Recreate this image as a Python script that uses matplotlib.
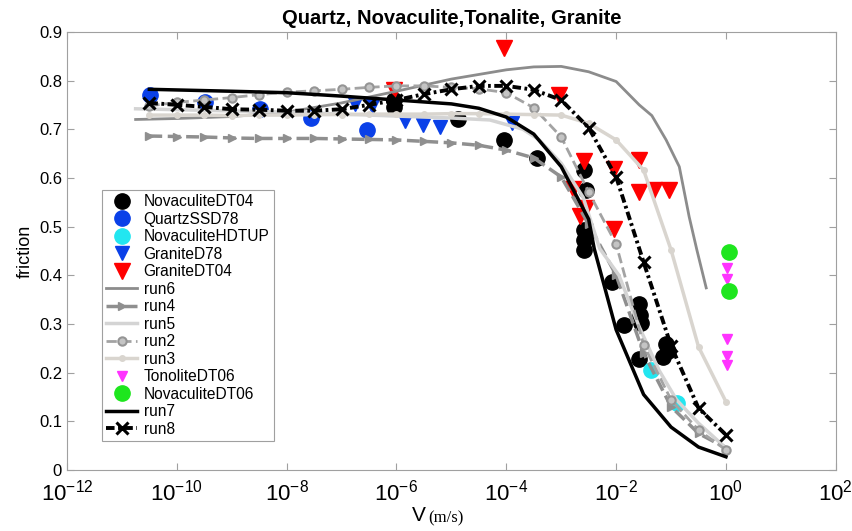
import numpy as np
import matplotlib
matplotlib.use("Agg")
import matplotlib.pyplot as plt

# log10 of slip velocity (m/s) for the model runs sampled every half decade
logv_grid = [-10.5, -10.0, -9.5, -9.0, -8.5, -8.0, -7.5, -7.0, -6.5, -6.0, -5.5,
             -5.0, -4.5, -4.0, -3.5, -3.0, -2.5, -2.0, -1.5, -1.0, -0.5, 0.0]

run2 = [0.748, 0.755, 0.760, 0.765, 0.771, 0.776, 0.779, 0.782, 0.786, 0.789, 0.789,
        0.786, 0.783, 0.775, 0.744, 0.684, 0.571, 0.464, 0.257, 0.144, 0.082, 0.041]
run3 = [0.729, 0.729, 0.729, 0.728, 0.729, 0.729, 0.730, 0.730, 0.731, 0.731, 0.731,
        0.732, 0.732, 0.731, 0.730, 0.729, 0.712, 0.678, 0.616, 0.452, 0.253, 0.140]
run4 = [0.686, 0.685, 0.684, 0.682, 0.681, 0.681, 0.681, 0.680, 0.679, 0.678, 0.675,
        0.672, 0.667, 0.657, 0.641, 0.602, 0.505, 0.400, 0.240, 0.130, 0.075, 0.045]
run8 = [0.754, 0.750, 0.746, 0.741, 0.740, 0.738, 0.738, 0.741, 0.750, 0.760, 0.772,
        0.782, 0.789, 0.789, 0.781, 0.760, 0.703, 0.602, 0.427, 0.255, 0.127, 0.072]

run7_logv = [-10.5, -9.0, -8.0, -7.0, -6.0, -5.0, -4.5, -4.0, -3.5, -3.0, -2.5, -2.4,
             -2.0, -1.5, -1.0, -0.5, 0.0]
run7 = [0.782, 0.778, 0.775, 0.768, 0.760, 0.752, 0.743, 0.725, 0.690, 0.623, 0.515,
        0.455, 0.288, 0.155, 0.088, 0.047, 0.027]

run6_logv = [-10.75, -10.0, -9.0, -8.0, -7.0, -6.0, -5.0, -4.0, -3.5, -3.0, -2.5, -2.0,
             -1.58, -1.35, -1.09, -0.85, -0.67, -0.53, -0.36]
run6 = [0.720, 0.722, 0.726, 0.735, 0.754, 0.778, 0.803, 0.822, 0.828, 0.829, 0.818,
        0.798, 0.750, 0.728, 0.678, 0.623, 0.520, 0.452, 0.374]

run5_logv = [-10.75, -8.0, -6.0, -5.0, -4.3, -3.7, -3.4, -3.0, -2.6, -2.3, -1.95,
             -1.58, -1.22, -0.9, -0.5, 0.0]
run5 = [0.742, 0.735, 0.727, 0.723, 0.719, 0.700, 0.678, 0.630, 0.560, 0.455, 0.400,
        0.294, 0.205, 0.144, 0.096, 0.045]

# laboratory data (log10 V, friction)
nov_dt04_logv = [-6.04, -6.04, -4.88, -4.04, -3.45, -2.58, -2.55, -2.58, -2.58, -2.58,
                 -2.07, -1.86, -1.58, -1.56, -1.55, -1.58, -1.09, -1.05, -1.15]
nov_dt04_mu = [0.745, 0.760, 0.720, 0.678, 0.640, 0.617, 0.575, 0.493, 0.473, 0.452,
               0.386, 0.297, 0.340, 0.318, 0.302, 0.228, 0.258, 0.245, 0.232]

qtz_ssd78_logv = [-10.49, -9.49, -8.49, -7.55, -6.53]
qtz_ssd78_mu = [0.770, 0.756, 0.742, 0.723, 0.699]

nov_hdtup_logv = [-1.36, -0.89]
nov_hdtup_mu = [0.205, 0.137]

gr_d78_logv = [-6.75, -6.45, -5.85, -5.52, -5.20, -3.90]
gr_d78_mu = [0.752, 0.748, 0.717, 0.709, 0.704, 0.713]

gr_dt04_logv = [-6.04, -4.04, -3.04, -2.58, -2.04, -1.58, -1.58, -1.31, -1.04,
                -2.78, -2.55, -2.65, -2.04]
gr_dt04_mu = [0.780, 0.867, 0.770, 0.635, 0.618, 0.637, 0.570, 0.576, 0.576,
              0.578, 0.538, 0.522, 0.495]

ton_dt06_logv = [0.02, 0.02, 0.02, 0.02, 0.02]
ton_dt06_mu = [0.415, 0.392, 0.268, 0.234, 0.216]

nov_dt06_logv = [0.06, 0.06]
nov_dt06_mu = [0.448, 0.368]


def v(logv):
    return 10.0 ** np.asarray(logv)


plt.rcParams['font.family'] = ['Liberation Sans', 'DejaVu Sans']

fig = plt.figure(figsize=(8.52, 5.31), dpi=100)
ax = fig.add_axes([0.0786, 0.115, 0.9024, 0.825])

ms_big = 11
ax.plot(v(nov_dt04_logv), nov_dt04_mu, 'o', color='black', ms=ms_big, mec='black',
        ls='none', label='NovaculiteDT04')
ax.plot(v(qtz_ssd78_logv), qtz_ssd78_mu, 'o', color='#0a40e8', ms=ms_big, mec='#0a40e8',
        ls='none', label='QuartzSSD78')
ax.plot(v(nov_hdtup_logv), nov_hdtup_mu, 'o', color='#22e6f0', ms=ms_big, mec='#22e6f0',
        ls='none', label='NovaculiteHDTUP')
ax.plot(v(gr_d78_logv), gr_d78_mu, 'v', color='#0a40e8', ms=10, mec='#0a40e8',
        ls='none', label='GraniteD78')
ax.plot(v(gr_dt04_logv), gr_dt04_mu, 'v', color='#ff0000', ms=11, mec='#ff0000',
        ls='none', label='GraniteDT04')

ax.plot(v(run6_logv), run6, '-', color='#8c8c8c', lw=2, label='run6')
ax.plot(v(logv_grid), run4, '--', color='#8f8f8f', lw=2.5, marker='>', ms=6,
        mfc='#8f8f8f', mec='#8f8f8f', label='run4')
ax.plot(v(run5_logv), run5, '-', color='#d4d4d4', lw=2.5, label='run5')
ax.plot(v(logv_grid), run2, '--', color='#a3a3a3', lw=2, marker='o', ms=6,
        mfc='#c4c4c4', mec='#959595', mew=1.5, label='run2')
ax.plot(v(logv_grid), run3, '-', color='#d9d5cf', lw=2.5, marker='o', ms=4,
        mfc='#d9d5cf', mec='#d9d5cf', label='run3')

ax.plot(v(ton_dt06_logv), ton_dt06_mu, 'v', color='#ff33ff', ms=7.5, mec='#ff33ff',
        ls='none', label='TonoliteDT06')
ax.plot(v(nov_dt06_logv), nov_dt06_mu, 'o', color='#1ee61e', ms=ms_big, mec='#1ee61e',
        ls='none', label='NovaculiteDT06')
ax.plot(v(run7_logv), run7, '-', color='black', lw=2.5, label='run7')
ax.plot(v(logv_grid), run8, color='black', lw=2.8, dashes=(2.2, 0.9, 0.7, 0.9),
        marker='x', ms=8, mew=2.2, label='run8')

ax.set_xscale('log')
ax.set_xlim(1e-12, 1e2)
ax.set_ylim(0, 0.9)
ax.set_xticks([1e-12, 1e-10, 1e-8, 1e-6, 1e-4, 1e-2, 1e0, 1e2])
ax.xaxis.set_minor_locator(matplotlib.ticker.NullLocator())
ax.set_yticks(np.arange(0, 0.91, 0.1))
ax.set_yticklabels(['0', '0.1', '0.2', '0.3', '0.4', '0.5', '0.6', '0.7', '0.8', '0.9'],
                   fontsize=12)
ax.tick_params(axis='x', labelsize=16, pad=7)
ax.tick_params(direction='in', top=True, right=True, length=5, color='#a0a0a0',
               labelcolor='black')
for s in ax.spines.values():
    s.set_color('#a0a0a0')

ax.set_ylabel('friction', fontsize=13)
ax.set_title('Quartz, Novaculite,Tonalite, Granite', fontsize=14.5, fontweight='bold',
             pad=6)
fig.text(0.492, 0.012, 'V', fontsize=15, ha='center', va='bottom')
fig.text(0.503, 0.008, '(m/s)', fontsize=12, family=['Liberation Serif', 'DejaVu Serif'],
         ha='left', va='bottom')

leg = ax.legend(loc='upper left', bbox_to_anchor=(0.045, 0.64), fontsize=11.2,
                frameon=True, fancybox=False, edgecolor='#a0a0a0', framealpha=1,
                labelspacing=0.16, handlelength=2.0, handletextpad=0.4,
                borderpad=0.3, borderaxespad=0)
leg.get_frame().set_linewidth(0.8)

fig.savefig('out.png', dpi=100)
